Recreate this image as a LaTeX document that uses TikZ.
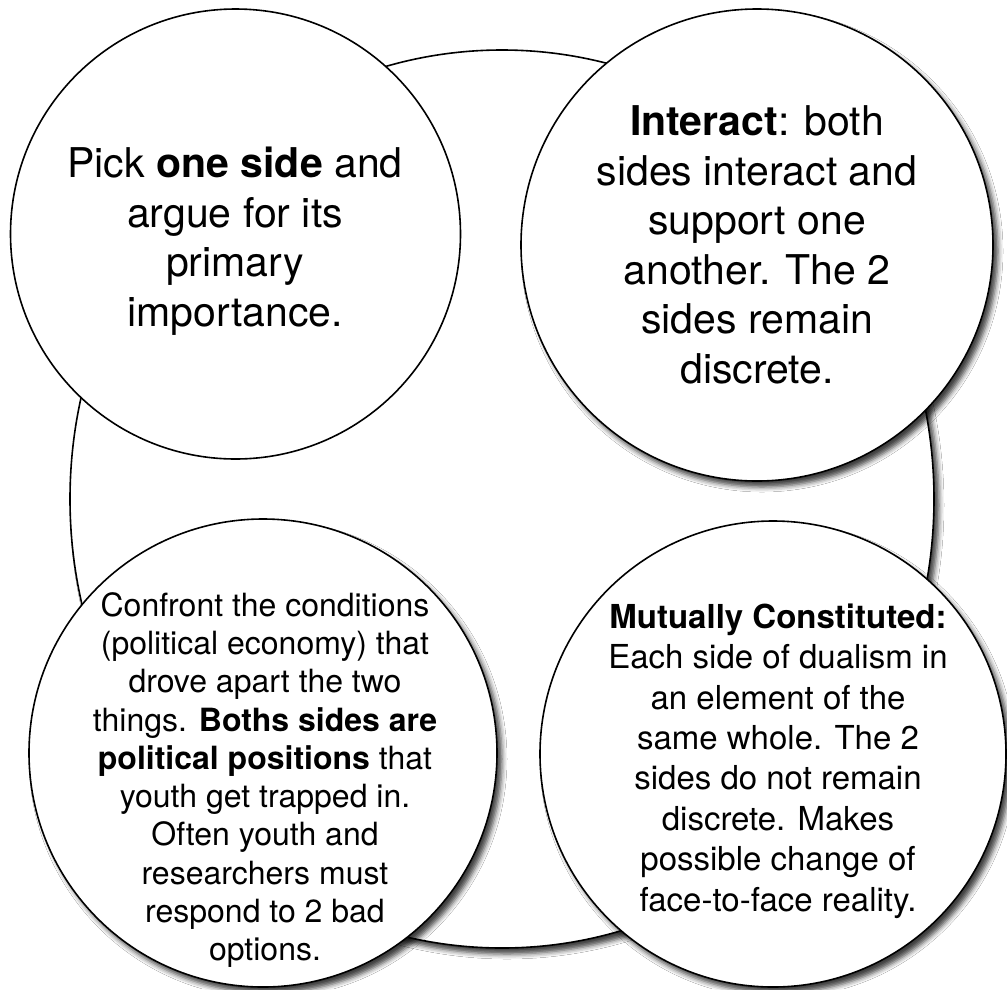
\documentclass[tikz,border=0pt]{standalone}
\usepackage{fontspec}
\setmainfont{TeX Gyre Heros}
\usetikzlibrary{shadows.blur}
\begin{document}
\begin{tikzpicture}[x=1pt,y=-1pt,
  ring/.style={draw=black, line width=1.6pt, fill=white},
  shad/.style={blur shadow={shadow xshift=5pt, shadow yshift=-6pt, shadow blur radius=5pt, shadow opacity=75}},
  bigtxt/.style={inner sep=0pt, align=center, font=\fontsize{41}{49.5}\selectfont},
  bltxt/.style={inner sep=0pt, align=center, font=\fontsize{32}{38.3}\selectfont},
  brtxt/.style={inner sep=0pt, align=center, font=\fontsize{33}{40.4}\selectfont}]
\useasboundingbox (0,0) rectangle (1007,989);
\fill[white] (0,0) rectangle (1007,989);
% big background ellipse
\path[ring, shad] (502,499) ellipse [x radius=432pt, y radius=449pt];
% four circles
\path[ring] (235.5,234) circle [radius=225pt];
\path[ring, shad] (757,245) circle [radius=236pt];
\path[ring, shad] (263,753) circle [radius=234pt];
\path[ring, shad] (773,754) circle [radius=233pt];
% texts
\node[bigtxt] (tl) at (235,241) {Pick \textbf{one side} and\\argue for its\\primary\\importance.};
\node[bigtxt] (tr) at (757,245) {\textbf{Interact}: both\\sides interact and\\support one\\another. The 2\\sides remain\\discrete.};
\node[bltxt] (bl) at (265,780) {Confront the conditions\\(political economy) that\\drove apart the two\\things. \textbf{Boths sides are}\\\textbf{political positions} that\\youth get trapped in.\\Often youth and\\researchers must\\respond to 2 bad\\options.};
\node[brtxt] (br) at (778,761) {\textbf{Mutually Constituted:}\\Each side of dualism in\\an element of the\\same whole. The 2\\sides do not remain\\discrete. Makes\\possible change of\\face-to-face reality.};
\end{tikzpicture}
\end{document}
